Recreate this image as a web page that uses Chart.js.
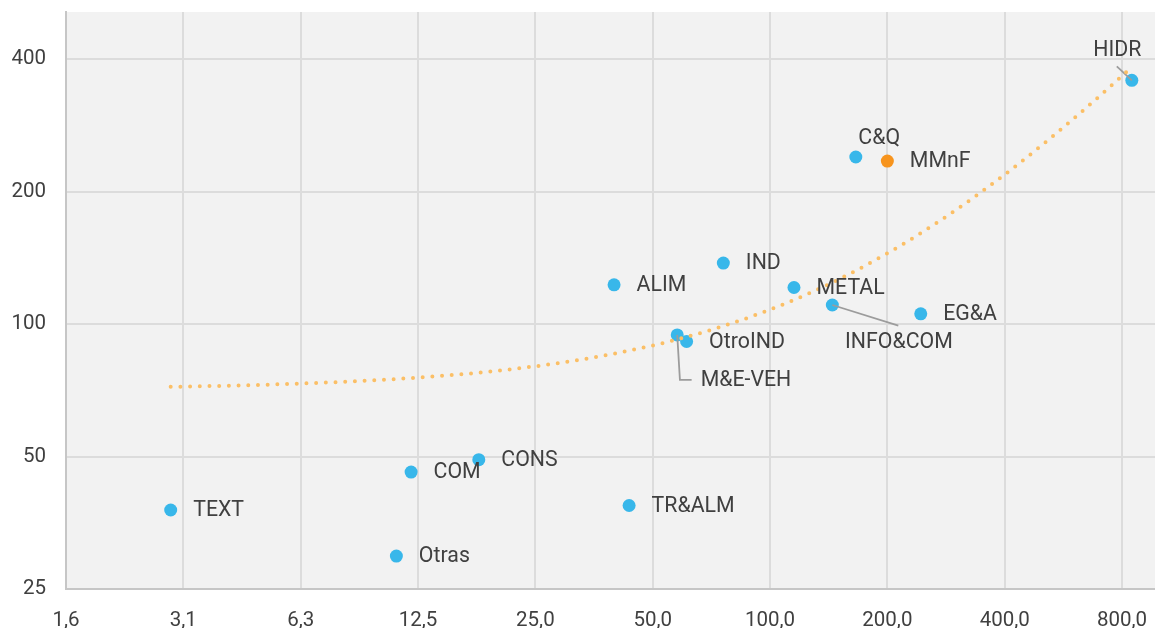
<!DOCTYPE html>
<html>
<head>
<meta charset="utf-8">
<script src="https://cdn.jsdelivr.net/npm/chart.js@4.4.1/dist/chart.umd.min.js"></script>
<style>
  html, body { margin: 0; padding: 0; background: #ffffff; overflow: hidden; }
  #wrap { width: 1155px; height: 628px; }
  canvas { display: block; }
</style>
</head>
<body>
<div id="wrap"><canvas id="chart" width="1155" height="628"></canvas></div>
<script>
// Sector codes and their two indicators (both axes on log2 scales)
const sectors = ['TEXT', 'Otras', 'COM', 'CONS', 'TR&ALM', 'ALIM', 'M&E-VEH', 'OtroIND',
                 'IND', 'METAL', 'INFO&COM', 'EG&A', 'C&Q', 'MMnF', 'HIDR'];
const xValues = [2.9, 11.0, 12.0, 17.9, 43.5, 39.8, 57.8, 61.1,
                 75.9, 115.2, 144.5, 243.6, 166.0, 200.0, 847.6];
const yValues = [37.8, 29.7, 46.1, 49.2, 38.7, 122.8, 94.5, 91.3,
                 137.6, 121.1, 110.5, 105.5, 239.7, 234.7, 358.0];
const highlightedSector = 'MMnF';

// Axis ticks
const xTickValues = [1.5625, 3.125, 6.25, 12.5, 25, 50, 100, 200, 400, 800];
const xTickLabels = ['1,6', '3,1', '6,3', '12,5', '25,0', '50,0', '100,0', '200,0', '400,0', '800,0'];
const yTickValues = [25, 50, 100, 200, 400];
const yTickLabels = ['25', '50', '100', '200', '400'];

// Ordinary least-squares fit of y on x, drawn as the dotted trend curve
function linearFit(xs, ys) {
  const n = xs.length;
  const mx = xs.reduce((s, v) => s + v, 0) / n;
  const my = ys.reduce((s, v) => s + v, 0) / n;
  let sxy = 0, sxx = 0;
  for (let i = 0; i < n; i++) {
    sxy += (xs[i] - mx) * (ys[i] - my);
    sxx += (xs[i] - mx) * (xs[i] - mx);
  }
  const b = sxy / sxx;
  return { a: my - b * mx, b };
}
const fit = linearFit(xValues, yValues);
const xLo = Math.min(...xValues), xHi = Math.max(...xValues);
const trendPoints = [];
const TREND_STEPS = 160;
for (let i = 0; i <= TREND_STEPS; i++) {
  const x = xLo * Math.pow(xHi / xLo, i / TREND_STEPS);
  trendPoints.push({ x, y: fit.a + fit.b * x });
}

const scatterPoints = sectors.map((s, i) => ({ x: xValues[i], y: yValues[i], label: s }));

const FONT = 'Roboto, "Noto Sans", sans-serif';
const TEXT_COLOR = '#404040';

// Label placement relative to each point (pixels); default sits to the right
const labelLayout = {
  'C&Q':      { dx: 2.5,   dy: -18 },
  'HIDR':     { dx: -38.5, dy: -30,  leader: [[-15, -14], [0, 0]] },
  'INFO&COM': { dx: 12.7,  dy: 37.5, leader: [[0, 0], [66, 20.7]] },
  'M&E-VEH':  { dx: 23.4,  dy: 45.5, leader: [[0, 0], [2.7, 45], [14.4, 45]] }
};
const defaultLayout = { dx: 22.5, dy: 1 };

const plotBackground = {
  id: 'plotBackground',
  beforeDraw(chart) {
    const { ctx, chartArea: a } = chart;
    ctx.save();
    ctx.fillStyle = '#f2f2f2';
    ctx.fillRect(a.left, a.top, a.right - a.left, a.bottom - a.top);
    ctx.restore();
  }
};

function pointPixels(chart) {
  const meta = chart.getDatasetMeta(1);
  return meta.data.map(el => ({ x: el.x, y: el.y }));
}

const pointLabels = {
  id: 'pointLabels',
  beforeDatasetDraw(chart, args) {
    // leader lines go above the markers but under the trend dots
    if (args.index !== 0) return;
    const { ctx } = chart;
    const px = pointPixels(chart);
    ctx.save();
    ctx.strokeStyle = '#9c9c9c';
    ctx.lineWidth = 1.8;
    sectors.forEach((s, i) => {
      const lay = labelLayout[s];
      if (!lay || !lay.leader) return;
      ctx.beginPath();
      lay.leader.forEach(([dx, dy], k) => {
        const X = px[i].x + dx, Y = px[i].y + dy;
        if (k === 0) ctx.moveTo(X, Y); else ctx.lineTo(X, Y);
      });
      ctx.stroke();
    });
    ctx.restore();
  },
  afterDatasetsDraw(chart) {
    const { ctx } = chart;
    const px = pointPixels(chart);
    ctx.save();
    ctx.font = '21.3px ' + FONT;
    ctx.fillStyle = TEXT_COLOR;
    ctx.textAlign = 'left';
    ctx.textBaseline = 'middle';
    sectors.forEach((s, i) => {
      const lay = labelLayout[s] || defaultLayout;
      ctx.fillText(s, px[i].x + lay.dx, px[i].y + lay.dy);
    });
    ctx.restore();
  }
};

// Keep the plot area flush with the canvas edges: no extra room for edge labels
function noEdgePadding(scale) {
  scale.paddingTop = 0;
  scale.paddingBottom = 0;
  scale.paddingLeft = 0;
  scale.paddingRight = 0;
}

new Chart(document.getElementById('chart'), {
  type: 'scatter',
  data: {
    datasets: [
      {
        type: 'line',
        label: 'Tendencia',
        data: trendPoints,
        borderColor: '#fbbf66',
        borderWidth: 4,
        borderDash: [0, 9.7],
        borderCapStyle: 'round',
        pointRadius: 0,
        fill: false,
        tension: 0
      },
      {
        label: 'Sectores',
        data: scatterPoints,
        pointRadius: 6.5,
        pointHoverRadius: 6.5,
        borderWidth: 0,
        backgroundColor: ctx => (ctx.raw && ctx.raw.label === highlightedSector) ? '#f7941d' : '#38b7ea'
      }
    ]
  },
  options: {
    responsive: false,
    animation: false,
    devicePixelRatio: 1,
    layout: { autoPadding: false, padding: { top: 12, right: 0, bottom: 0, left: 0 } },
    plugins: { legend: { display: false }, tooltip: { enabled: false } },
    scales: {
      x: {
        type: 'logarithmic',
        min: 1.5625,
        max: 972,
        afterBuildTicks: scale => { scale.ticks = xTickValues.map(v => ({ value: v })); },
        afterFit: scale => { scale.height = 39; noEdgePadding(scale); },
        grid: { color: '#dcdcdc', lineWidth: 2, drawTicks: false },
        border: { color: '#c6c6c6', width: 2 },
        ticks: {
          autoSkip: false, maxRotation: 0, padding: 20,
          color: TEXT_COLOR, font: { family: FONT, size: 20.5 },
          callback: (v, i) => xTickLabels[i]
        }
      },
      y: {
        type: 'logarithmic',
        min: 25,
        max: 512,
        afterBuildTicks: scale => { scale.ticks = yTickValues.map(v => ({ value: v })); },
        afterFit: scale => { scale.width = 66; noEdgePadding(scale); },
        grid: { color: '#dcdcdc', lineWidth: 2, drawTicks: false },
        border: { color: '#c6c6c6', width: 2 },
        ticks: {
          autoSkip: false, padding: 20,
          color: TEXT_COLOR, font: { family: FONT, size: 20.5 },
          callback: (v, i) => yTickLabels[i]
        }
      }
    }
  },
  plugins: [plotBackground, pointLabels]
});
</script>
</body>
</html>
